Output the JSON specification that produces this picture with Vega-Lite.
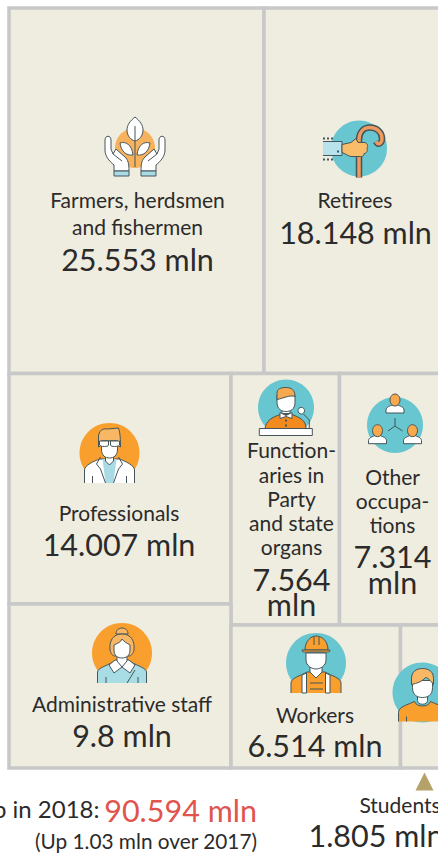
{
"$schema":"https://vega.github.io/schema/vega-lite/v6.json",
"width":438,"height":854,"autosize":{"type":"none"},"padding":0,"background":"#ffffff",
"view":{"stroke":null},
"datasets":{
"cells":[
{"name":"Farmers, herdsmen and fishermen","value":25.553,"x0":9,"x1":264,"y0":8,"y1":373.5},
{"name":"Retirees","value":18.148,"x0":264,"x1":446,"y0":8,"y1":373.5},
{"name":"Professionals","value":14.007,"x0":9,"x1":231,"y0":373.5,"y1":604},
{"name":"Functionaries in Party and state organs","value":7.564,"x0":231,"x1":339.5,"y0":373.5,"y1":625},
{"name":"Other occupations","value":7.314,"x0":339.5,"x1":446,"y0":373.5,"y1":625},
{"name":"Administrative staff","value":9.8,"x0":9,"x1":231,"y0":604,"y1":768},
{"name":"Workers","value":6.514,"x0":231,"x1":400.5,"y0":625,"y1":768},
{"name":"Students","value":1.805,"x0":400.5,"x1":446,"y0":625,"y1":768}
],
"labels":[
{"t":"Farmers, herdsmen","x":137.5,"y":208},
{"t":"and fishermen","x":137.5,"y":235},
{"t":"Retirees","x":355,"y":208},
{"t":"Professionals","x":119,"y":520.5},
{"t":"Function-","x":291.5,"y":458},
{"t":"aries in","x":291.5,"y":482.5},
{"t":"Party","x":291.5,"y":506.5},
{"t":"and state","x":291.5,"y":530.5},
{"t":"organs","x":291.5,"y":554.5},
{"t":"Other","x":392.5,"y":485},
{"t":"occupa-","x":392.5,"y":508.5},
{"t":"tions","x":392.5,"y":532.5},
{"t":"Administrative staff","x":122,"y":711.5},
{"t":"Workers","x":315,"y":722.5},
{"t":"Students","x":400,"y":813}
],
"values":[
{"t":"25.553 mln","x":137.5,"y":271},
{"t":"18.148 mln","x":355.5,"y":244},
{"t":"14.007 mln","x":119,"y":556},
{"t":"7.564","x":291.5,"y":591},
{"t":"mln","x":291.5,"y":616},
{"t":"7.314","x":392.5,"y":568},
{"t":"mln","x":392.5,"y":594},
{"t":"9.8 mln","x":122,"y":746.5},
{"t":"6.514 mln","x":315,"y":757},
{"t":"1.805 mln","x":376,"y":847}
],
"total":[{"t":"Membership in 2018:","x":99.5,"y":818}],
"change":[{"t":"(Up 1.03 mln over 2017)","x":257,"y":849}],
"highlight":[{"t":"90.594 mln","x":257,"y":821.5}],
"marker":[{"name":"Students","x":424.5,"y":781.5}],
"icons":[
{"part":"o20","x":135,"y":148},{"part":"fa_hl","x":135,"y":148},{"part":"fa_hr","x":135,"y":148},{"part":"fa_cl","x":135,"y":148},{"part":"fa_cr","x":135,"y":148},{"part":"fa_ll","x":135,"y":148},{"part":"fa_lr","x":135,"y":148},{"part":"fa_lc","x":135,"y":148},{"part":"fa_st","x":135,"y":148},
{"part":"t28","x":359,"y":148.5},{"part":"re_co","x":359,"y":148.5},{"part":"re_ci","x":359,"y":148.5},{"part":"re_sl","x":359,"y":148.5},{"part":"re_h","x":359,"y":148.5},{"part":"re_d","x":359,"y":148.5},
{"part":"o30","x":109.5,"y":453},{"part":"pr_body","x":109.5,"y":453},{"part":"pr_shirt","x":109.5,"y":453},{"part":"pr_neck","x":109.5,"y":453},{"part":"pr_lapel","x":109.5,"y":453},{"part":"pr_hair","x":109.5,"y":453},{"part":"pr_face","x":109.5,"y":453},{"part":"pr_glass","x":109.5,"y":453},
{"part":"t28","x":286,"y":407.5},{"part":"fn_body","x":286,"y":407.5},{"part":"fn_neck","x":286,"y":407.5},{"part":"fn_bow","x":286,"y":407.5},{"part":"fn_btn","x":286,"y":407.5},{"part":"fn_face","x":286,"y":407.5},{"part":"fn_hair","x":286,"y":407.5},{"part":"fn_mic","x":286,"y":407.5},{"part":"fn_ball","x":286,"y":407.5},{"part":"fn_pod","x":286,"y":407.5},
{"part":"t28","x":395,"y":425},{"part":"ot_conn","x":395,"y":425},{"part":"ot_body","x":395,"y":425},{"part":"ot_head","x":395,"y":425},
{"part":"o30","x":122,"y":653},{"part":"ad_body","x":122,"y":653},{"part":"ad_collar","x":122,"y":653},{"part":"ad_neck","x":122,"y":653},{"part":"ad_lines","x":122,"y":653},{"part":"ad_bun","x":122,"y":653},{"part":"ad_hair","x":122,"y":653},{"part":"ad_face","x":122,"y":653},
{"part":"t30","x":316,"y":663},{"part":"wk_body","x":316,"y":663},{"part":"wk_straps","x":316,"y":663},{"part":"wk_neck","x":316,"y":663},{"part":"wk_lines","x":316,"y":663},{"part":"wk_face","x":316,"y":663},{"part":"wk_helm","x":316,"y":663},{"part":"wk_brim","x":316,"y":663},{"part":"wk_hl","x":316,"y":663},
{"part":"t30","x":422.5,"y":692.5},{"part":"st_body","x":422.5,"y":692.5},{"part":"st_neck","x":422.5,"y":692.5},{"part":"st_lines","x":422.5,"y":692.5},{"part":"st_face","x":422.5,"y":692.5},{"part":"st_hair","x":422.5,"y":692.5}
]
},
"encoding":{
"x":{"field":"x","type":"quantitative","scale":{"domain":[0,438],"range":[0,438]},"axis":null},
"y":{"field":"y","type":"quantitative","scale":{"domain":[0,854],"range":[0,854]},"axis":null}
},
"layer":[
{"data":{"name":"cells"},"mark":{"type":"rect","fill":"#efede0","stroke":"#c8c8c8","strokeWidth":3.5},
"encoding":{"x":{"field":"x0","type":"quantitative","scale":{"domain":[0,438],"range":[0,438]},"axis":null},"x2":{"field":"x1"},"y":{"field":"y0","type":"quantitative","scale":{"domain":[0,854],"range":[0,854]},"axis":null},"y2":{"field":"y1"}}},
{"data":{"name":"icons"},"mark":{"type":"point","filled":true,"opacity":1,"size":4},
"encoding":{
"shape":{"field":"part","type":"nominal","legend":null,"scale":{
"domain":["o20","t28","t30","o30","fa_hl","fa_hr","fa_cl","fa_cr","fa_ll","fa_lr","fa_lc","fa_st","re_co","re_ci","re_sl","re_h","re_d","pr_body","pr_shirt","pr_neck","pr_lapel","pr_hair","pr_face","pr_glass","fn_body","fn_neck","fn_bow","fn_btn","fn_face","fn_hair","fn_mic","fn_ball","fn_pod","ot_conn","ot_body","ot_head","ad_body","ad_collar","ad_neck","ad_lines","ad_bun","ad_hair","ad_face","wk_body","wk_straps","wk_neck","wk_lines","wk_face","wk_helm","wk_brim","wk_hl","st_body","st_neck","st_lines","st_face","st_hair"],
"range":[
"M-20,0A20,20,0,1,1,20,0A20,20,0,1,1,-20,0Z",
"M-28,0A28,28,0,1,1,28,0A28,28,0,1,1,-28,0Z",
"M-30,0A30,30,0,1,1,30,0A30,30,0,1,1,-30,0Z",
"M-30,0A30,30,0,1,1,30,0A30,30,0,1,1,-30,0Z",
"M-21,23 L-21,17 C-26,13 -30,8 -30,2 L-30,-8 C-30,-13 -24,-13 -24,-8 L-24,1 L-22,6 L-19,1 L-10,9 C-7,12 -6,15 -6,23 Z M-22,6 L-13,13",
"M21,23 L21,17 C26,13 30,8 30,2 L30,-8 C30,-13 24,-13 24,-8 L24,1 L22,6 L19,1 L10,9 C7,12 6,15 6,23 Z M22,6 L13,13",
"M-21,23 H-6 V28 H-21Z",
"M21,23 H6 V28 H21Z",
"M-15,-5 C-9,-7 -3,-3 -2,7 C-9,8 -14,3 -15,-5Z",
"M15,-5 C9,-7 3,-3 2,7 C9,8 14,3 15,-5Z",
"M0,-31 C5,-27 8,-23 8,-18 C8,-12 4,-8 0,-7 C-4,-8 -8,-12 -8,-18 C-8,-23 -5,-27 0,-31Z",
"M0,-22 V19",
"M0,29 V-8 C0,-18 6,-21 11,-21 C18,-21 23,-16 23,-10 C23,-5 19,-3 17,-7",
"M0,29 V-8 C0,-18 6,-21 11,-21 C18,-21 23,-16 23,-10 C23,-5 19,-3 17,-7",
"M-36,-7 H-17 V7 H-36",
"M-17,-4 L-8,-6 L-3,-10 L-1,-6 L6,-6 C9,-5 9,-1 8,0 C9,3 7,5 5,5 C5,8 3,8 1,8 L-8,8 C-12,7 -14,5 -17,4Z",
"M-36,-11h2v2h-2z M-32,-11h2v2h-2z M-28,-11h2v2h-2z M-36,10h2v2h-2z M-32,10h2v2h-2z M-28,10h2v2h-2z M-22,2h2v2h-2z",
"M-25,30 V17 C-25,12 -15,8 -10,6 L10,6 C15,8 25,12 25,17 V30 M-17,23 V30 M17,23 V30",
"M-7,6 L-4,30 H4 L7,6 Z",
"M-4,2 V8 L0,12 L4,8 V2Z",
"M-9,4 L-13,11 L-9,16 L-4,30 M9,4 L13,11 L9,16 L4,30",
"M-11,-6 V-16 C-11,-22 -7,-25 -2,-24 L9,-25 C10,-22 11,-18 11,-6 L8,-8 V-12 L-8,-12 V-8Z",
"M-8,-12 V-4 C-8,3 -4,5 0,5 C4,5 8,3 8,-4 V-12 Z",
"M-10,-12 H-1 V-8 C-1,-6 -9,-6 -10,-8Z M1,-12 H10 V-8 C9,-6 1,-6 1,-8Z",
"M-21,21 C-20,13 -14,10 -6,7 L6,7 C14,10 20,13 20,21Z",
"M-4,0 V6 H4 V0Z",
"M-6,5 L0,8 L6,5 V11 L0,9 L-6,11Z",
"M-1,12h2v2h-2z M-1,17h2v2h-2z",
"M-9,-12 V-5 C-9,2 -4,4 0,4 C4,4 9,2 9,-5 V-12 Z",
"M-9,-8 V-14 C-9,-19 -5,-20 0,-20 C5,-20 9,-18 9,-11 C4,-13 -3,-9 -9,-8Z",
"M17.5,6.5 L23.3,12.5 V21",
"M12,3.2 A3.3,3.3,0,1,1,18.6,3.2 A3.3,3.3,0,1,1,12,3.2Z",
"M-26.7,21 H26.3 V28 H-26.7Z",
"M0,-7 V1 M0,1 L-7,6 M0,1 L7.5,6",
"M-9,-12 V-15 C-9,-18 -5,-19 -3,-20 L3,-20 C5,-19 9,-18 9,-15 V-12Z M-26.5,18.7 V15.7 C-26.5,12.7 -22.5,11.7 -20.5,10.7 L-14.5,10.7 C-12.5,11.7 -8.5,12.7 -8.5,15.7 V18.7Z M8.5,18.7 V15.7 C8.5,12.7 12.5,11.7 14.5,10.7 L20.5,10.7 C22.5,11.7 26.5,12.7 26.5,15.7 V18.7Z",
"M-5,-25 A5,6,0,1,1,5,-25 A5,6,0,1,1,-5,-25Z M-22.5,5.7 A5,6,0,1,1,-12.5,5.7 A5,6,0,1,1,-22.5,5.7Z M12.5,5.7 A5,6,0,1,1,22.5,5.7 A5,6,0,1,1,12.5,5.7Z",
"M-24.5,30 V19 C-24,15 -16,13 -9,9 L9,9 C16,13 24,15 24.5,19 V30",
"M-7,7 L-13,12 L-8,20 L0,14 L8,20 L13,12 L7,7Z",
"M-5,3 V8 L0,14 L5,8 V3Z",
"M-16,24 V30 M16,24 V30 M5,30 L13,17",
"M-6,-19 C-6,-27 6,-27 6,-19Z",
"M-12,-3 C-13,-12 -9,-19 0,-19 C9,-19 13,-12 12,-3 C11,1 9,3 7,3 L-7,3 C-9,3 -11,1 -12,-3Z",
"M-8,-8 C-4,-10 -1,-11 0,-14 C2,-11 5,-10 8,-8 V-3 C8,3 4,5 0,5 C-4,5 -8,3 -8,-3Z",
"M-25,30 V20 C-25,15 -16,13 -9,9 L9,9 C16,13 25,15 25,20 V30",
"M-14,12 L-9.5,10 V30 H-14Z M9.5,10 L14,12 V30 H9.5Z",
"M-6,4 V9 L0,15 L6,9 V4Z",
"M-6,20 H7 M-6,26 H7",
"M-10,-10 V-3 C-10,3 -4,6 0,6 C4,6 10,3 10,-3 V-10Z",
"M-11,-13 C-11,-22 -5,-27 0,-27 C6,-27 12,-22 12,-13Z",
"M-14,-13 H14 C14,-10 12,-11 0,-11 C-12,-11 -14,-10 -14,-13Z",
"M-2,-26 V-18 M3,-26 V-18",
"M-24,29 V20 C-24,14 -14,12 -8,9 C-6,15 6,15 8,9 C14,12 24,14 24,20 V29",
"M-5,3 V8 C-5,13 5,13 5,8 V3Z",
"M-16,24 V29 M16,24 V29",
"M-10,-12 V-5 C-10,3 -5,5 0,5 C5,5 10,3 10,-5 V-12Z",
"M-11,-8 V-14 C-11,-21 -6,-24 0,-24 C6,-24 11,-21 11,-14 V-8 C8,-12 5,-15 3,-15 C0,-11 -6,-9 -11,-8Z"
]}},
"fill":{"field":"part","type":"nominal","legend":null,"scale":{
"domain":["o20","t28","t30","o30","fa_hl","fa_hr","fa_cl","fa_cr","fa_ll","fa_lr","fa_lc","fa_st","re_co","re_ci","re_sl","re_h","re_d","pr_body","pr_shirt","pr_neck","pr_lapel","pr_hair","pr_face","pr_glass","fn_body","fn_neck","fn_bow","fn_btn","fn_face","fn_hair","fn_mic","fn_ball","fn_pod","ot_conn","ot_body","ot_head","ad_body","ad_collar","ad_neck","ad_lines","ad_bun","ad_hair","ad_face","wk_body","wk_straps","wk_neck","wk_lines","wk_face","wk_helm","wk_brim","wk_hl","st_body","st_neck","st_lines","st_face","st_hair"],
"range":["#f6b25d","#67c6cf","#67c6cf","#f99f2d","#ffffff","#ffffff","#a8dbe3","#a8dbe3","#ffffff","#ffffff","#ffffff","transparent","transparent","transparent","#b9e3ec","#f9bd6a","#46555a","#ffffff","#a8dbe3","#ffffff","transparent","#f7b765","#ffffff","#ffffff","#f28a1e","#ffffff","#ffffff","#46555a","#ffffff","#f7a94f","transparent","#ffffff","#ffffff","transparent","#ffffff","#f9a94b","#a9dde5","#ffffff","#ffffff","transparent","#f7b765","#f7b765","#ffffff","#f99f2d","#ffffff","#ffffff","transparent","#ffffff","#f99f2d","#f99f2d","transparent","#f99f2d","#ffffff","transparent","#ffffff","#f7b765"]}},
"stroke":{"field":"part","type":"nominal","legend":null,"scale":{
"domain":["o20","t28","t30","o30","fa_hl","fa_hr","fa_cl","fa_cr","fa_ll","fa_lr","fa_lc","fa_st","re_co","re_ci","re_sl","re_h","re_d","pr_body","pr_shirt","pr_neck","pr_lapel","pr_hair","pr_face","pr_glass","fn_body","fn_neck","fn_bow","fn_btn","fn_face","fn_hair","fn_mic","fn_ball","fn_pod","ot_conn","ot_body","ot_head","ad_body","ad_collar","ad_neck","ad_lines","ad_bun","ad_hair","ad_face","wk_body","wk_straps","wk_neck","wk_lines","wk_face","wk_helm","wk_brim","wk_hl","st_body","st_neck","st_lines","st_face","st_hair"],
"range":["transparent","transparent","transparent","transparent","#46555a","#46555a","#46555a","#46555a","#46555a","#46555a","#46555a","#46555a","#46555a","#ed9a5f","#46555a","#46555a","transparent","#46555a","transparent","#46555a","#46555a","#46555a","#46555a","#46555a","#46555a","#46555a","#46555a","transparent","#46555a","#46555a","#46555a","#46555a","#46555a","#46555a","#46555a","#46555a","#46555a","#46555a","#46555a","#46555a","#46555a","#46555a","#46555a","#46555a","#46555a","#46555a","#46555a","#46555a","#46555a","#46555a","#46555a","#46555a","#46555a","#46555a","#46555a","#46555a"]}},
"strokeWidth":{"field":"part","type":"nominal","legend":null,"scale":{
"domain":["re_co","re_ci"],"range":[6.5,3.5],"unknown":1.5}}
}},
{"data":{"name":"marker"},"mark":{"type":"point","filled":true,"opacity":1,"size":4,"fill":"#b5a26a","stroke":null,"shape":"M-9,9 L0,-9 L9,9Z"}},
{"data":{"name":"labels"},"mark":{"type":"text","font":"Lato","fontSize":21,"align":"center","baseline":"alphabetic","fill":"#2b2b2b"},"encoding":{"text":{"field":"t"}}},
{"data":{"name":"values"},"mark":{"type":"text","font":"Lato","fontSize":30.5,"align":"center","baseline":"alphabetic","fill":"#2b2b2b"},"encoding":{"text":{"field":"t"}}},
{"data":{"name":"total"},"mark":{"type":"text","font":"Lato","fontSize":24,"align":"right","baseline":"alphabetic","fill":"#2b2b2b"},"encoding":{"text":{"field":"t"}}},
{"data":{"name":"change"},"mark":{"type":"text","font":"Lato","fontSize":20.8,"align":"right","baseline":"alphabetic","fill":"#2b2b2b"},"encoding":{"text":{"field":"t"}}},
{"data":{"name":"highlight"},"mark":{"type":"text","font":"Lato","fontSize":30.5,"align":"right","baseline":"alphabetic","fill":"#e1544e"},"encoding":{"text":{"field":"t"}}}
]
}
